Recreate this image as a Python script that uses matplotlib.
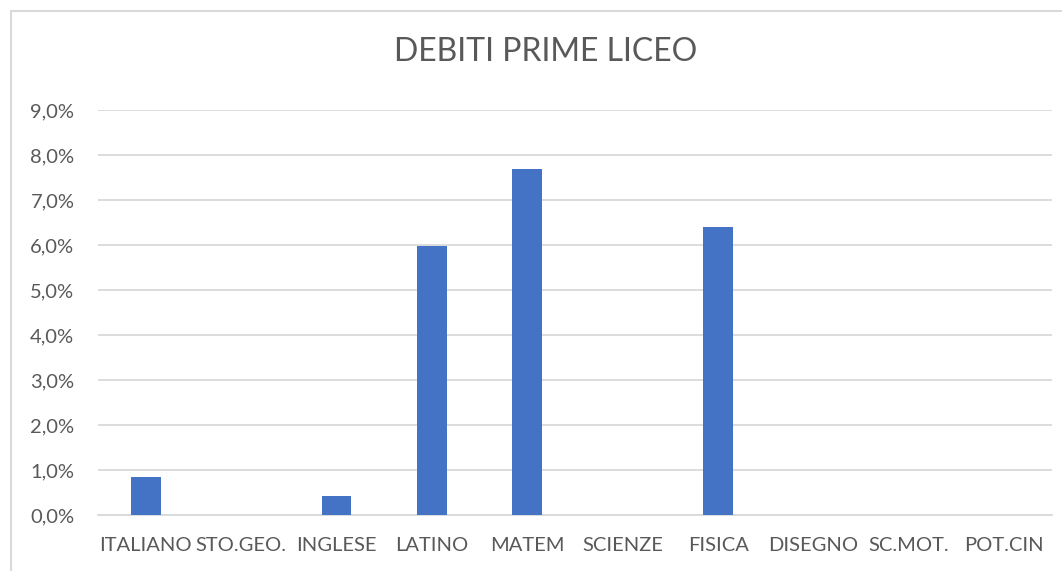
import matplotlib.pyplot as plt
from matplotlib.patches import Rectangle
from matplotlib.ticker import FuncFormatter

# dati (percentuale di debiti per materia)
materie = ["ITALIANO", "STO.GEO.", "INGLESE", "LATINO", "MATEM", "SCIENZE",
           "FISICA", "DISEGNO", "SC.MOT.", "POT.CIN"]
debiti = [0.84, 0, 0.42, 5.98, 7.69, 0, 6.41, 0, 0, 0]
yticks = [0, 1, 2, 3, 4, 5, 6, 7, 8, 9]

testo = "#595959"
griglia = "#D9D9D9"

plt.rcParams["font.family"] = ["Lato", "DejaVu Sans"]

fig = plt.figure(figsize=(10.62, 5.71), dpi=100)
ax = fig.add_axes([98 / 1062, 1 - 515 / 571, (1052 - 98) / 1062, (515 - 110) / 571])

ax.bar(range(len(materie)), debiti, width=0.314, color="#4472C4", zorder=3)

ax.set_xlim(-0.5, len(materie) - 0.5)
ax.set_ylim(0, 9)
ax.set_yticks(yticks)
ax.yaxis.set_major_formatter(FuncFormatter(lambda v, p: f"{v:.1f}%".replace(".", ",")))
ax.set_xticks(range(len(materie)))
ax.set_xticklabels(materie)

ax.grid(axis="y", color=griglia, linewidth=1.3, zorder=0)
for s in ["top", "right", "left"]:
    ax.spines[s].set_visible(False)
ax.spines["bottom"].set_color(griglia)
ax.spines["bottom"].set_linewidth(1.3)
ax.tick_params(axis="both", length=0, labelsize=14.5, colors=testo)
ax.tick_params(axis="y", pad=17)
ax.tick_params(axis="x", pad=16)

fig.text(546 / 1062, 1 - 52 / 571, "DEBITI PRIME LICEO", ha="center", va="center",
         fontsize=23, color=testo)

# bordo dell'area del grafico
fig.patches.append(Rectangle((11 / 1062, -0.1), 1.2, 1.1 - 11 / 571,
                             transform=fig.transFigure, fill=False,
                             edgecolor=griglia, linewidth=1.5))

fig.savefig("out.png", dpi=100)
